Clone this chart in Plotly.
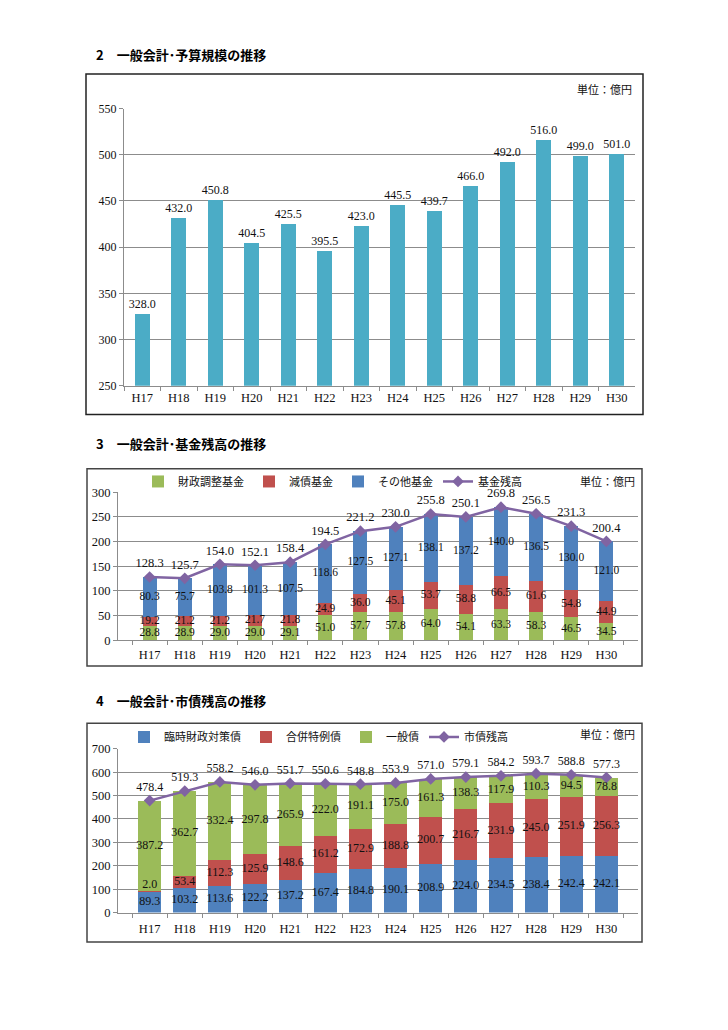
import numpy as np
import plotly.graph_objects as go

W, H = 728, 1030

years = ["H17", "H18", "H19", "H20", "H21", "H22", "H23", "H24", "H25", "H26", "H27", "H28", "H29", "H30"]

# Chart 2: 一般会計・予算規模
budget = [328.0, 432.0, 450.8, 404.5, 425.5, 395.5, 423.0, 445.5, 439.7, 466.0, 492.0, 516.0, 499.0, 501.0]

# Chart 3: 一般会計・基金残高
fund_adj = [28.8, 28.9, 29.0, 29.0, 29.1, 51.0, 57.7, 57.8, 64.0, 54.1, 63.3, 58.3, 46.5, 34.5]
fund_debt = [19.2, 21.2, 21.2, 21.7, 21.8, 24.9, 36.0, 45.1, 53.7, 58.8, 66.5, 61.6, 54.8, 44.9]
fund_other = [80.3, 75.7, 103.8, 101.3, 107.5, 118.6, 127.5, 127.1, 138.1, 137.2, 140.0, 136.5, 130.0, 121.0]
fund_total = [128.3, 125.7, 154.0, 152.1, 158.4, 194.5, 221.2, 230.0, 255.8, 250.1, 269.8, 256.5, 231.3, 200.4]

# Chart 4: 一般会計・市債残高
bond_temp = [89.3, 103.2, 113.6, 122.2, 137.2, 167.4, 184.8, 190.1, 208.9, 224.0, 234.5, 238.4, 242.4, 242.1]
bond_merge = [2.0, 53.4, 112.3, 125.9, 148.6, 161.2, 172.9, 188.8, 200.7, 216.7, 231.9, 245.0, 251.9, 256.3]
bond_general = [387.2, 362.7, 332.4, 297.8, 265.9, 222.0, 191.1, 175.0, 161.3, 138.3, 117.9, 110.3, 94.5, 78.8]
bond_total = [478.4, 519.3, 558.2, 546.0, 551.7, 550.6, 548.8, 553.9, 571.0, 579.1, 584.2, 593.7, 588.8, 577.3]

GREEN = "#9BBB59"
RED = "#C0504D"
BLUE = "#4F81BD"
PURPLE = "#8064A2"
TEAL = "#4BACC6"
GRID = "#8C8C8C"
SERIF = "Liberation Serif, DejaVu Serif, Noto Sans CJK JP"
GOTHIC = "Noto Sans CJK JP, Noto Sans"
TXT = "#111"


def px(x):
    return x / W


def py(y):
    return 1 - y / H


def fmt(v):
    return [f"{a:.1f}" for a in v]


fig = go.Figure()

# ---------- Chart 2 (budget) ----------
fig.add_trace(go.Bar(
    x=years, y=budget, width=0.4, marker_color=TEAL, marker_line_width=0,
    text=fmt(budget), textposition="outside", cliponaxis=False, constraintext="none",
    textfont=dict(family=SERIF, size=12, color=TXT),
    xaxis="x", yaxis="y", showlegend=False, hoverinfo="x+y",
))


def stack_mid(series_list):
    arr = np.array(series_list, dtype=float)
    cum = np.cumsum(arr, axis=0)
    return cum - arr / 2


def label_pos(vals, small):
    # very thin segments: lift the label a little so it does not sit on its neighbour
    return ["top center" if v < small else "middle center" for v in vals]


# ---------- Chart 3 (funds) ----------
for name, vals, col in [("財政調整基金", fund_adj, GREEN), ("減債基金", fund_debt, RED), ("その他基金", fund_other, BLUE)]:
    fig.add_trace(go.Bar(
        x=years, y=vals, width=0.4, marker_color=col, marker_line_width=0, name=name,
        xaxis="x2", yaxis="y2", legend="legend2",
    ))
fig.add_trace(go.Scatter(
    x=years, y=fund_total, mode="lines+markers+text", name="基金残高",
    line=dict(color=PURPLE, width=2.5), marker=dict(symbol="diamond", size=9, color=PURPLE),
    text=fmt(fund_total), textposition="top center", cliponaxis=False,
    textfont=dict(family=SERIF, size=12.5, color=TXT),
    xaxis="x2", yaxis="y2", legend="legend2",
))
mids = stack_mid([fund_adj, fund_debt, fund_other])
for vals, m in zip([fund_adj, fund_debt, fund_other], mids):
    fig.add_trace(go.Scatter(
        x=years, y=m, mode="text", text=fmt(vals), showlegend=False, hoverinfo="skip",
        textfont=dict(family=SERIF, size=11.5, color=TXT), cliponaxis=False,
        xaxis="x2", yaxis="y2",
    ))

# ---------- Chart 4 (bonds) ----------
for name, vals, col in [("臨時財政対策債", bond_temp, BLUE), ("合併特例債", bond_merge, RED), ("一般債", bond_general, GREEN)]:
    fig.add_trace(go.Bar(
        x=years, y=vals, width=0.66, marker_color=col, marker_line_width=0, name=name,
        xaxis="x3", yaxis="y3", legend="legend3",
    ))
fig.add_trace(go.Scatter(
    x=years, y=bond_total, mode="lines+markers+text", name="市債残高",
    line=dict(color=PURPLE, width=2.5), marker=dict(symbol="diamond", size=9, color=PURPLE),
    text=fmt(bond_total), textposition="top center", cliponaxis=False,
    textfont=dict(family=SERIF, size=12, color=TXT),
    xaxis="x3", yaxis="y3", legend="legend3",
))
mids = stack_mid([bond_temp, bond_merge, bond_general])
for vals, m in zip([bond_temp, bond_merge, bond_general], mids):
    fig.add_trace(go.Scatter(
        x=years, y=m, mode="text", text=fmt(vals), showlegend=False, hoverinfo="skip",
        textposition=label_pos(vals, 20), textfont=dict(family=SERIF, size=12, color=TXT),
        cliponaxis=False, xaxis="x3", yaxis="y3",
    ))

tickfont_x = dict(family=SERIF, size=12.5, color=TXT)


def xax(dom, standoff=0):
    return dict(domain=dom, type="category", showline=True, linecolor=GRID, linewidth=1,
                ticks="outside", tickson="boundaries", ticklen=4, tickcolor=GRID,
                ticklabelstandoff=standoff,
                tickfont=tickfont_x, showgrid=False, zeroline=False, fixedrange=True)


def yax(dom, rng, dtick, anchor, size=12.5):
    return dict(domain=dom, range=rng, dtick=dtick, showline=True, linecolor=GRID, linewidth=1,
                ticks="outside", ticklen=4, tickcolor=GRID, showgrid=True, gridcolor=GRID,
                gridwidth=1, zeroline=False, tickfont=dict(family=SERIF, size=size, color=TXT),
                anchor=anchor, fixedrange=True)


legend_font = dict(family=SERIF, size=11, color=TXT)

fig.update_layout(
    width=W, height=H, margin=dict(l=0, r=0, t=0, b=0),
    paper_bgcolor="white", plot_bgcolor="white", barmode="stack",
    xaxis=dict(xax([px(124), px(635)]), anchor="y"),
    yaxis=yax([py(384), py(103)], [250, 550], 50, "x", size=12),
    xaxis2=dict(xax([px(118), px(638)], 3), anchor="y2"),
    yaxis2=yax([py(642), py(492)], [0, 300], 50, "x2"),
    xaxis3=dict(xax([px(118), px(638)], 4), anchor="y3"),
    yaxis3=yax([py(918), py(752)], [0, 700], 100, "x3"),
    legend2=dict(orientation="h", x=px(138), y=py(481), xanchor="left", yanchor="middle",
                 font=legend_font, traceorder="normal", bgcolor="rgba(0,0,0,0)", itemwidth=30),
    legend3=dict(orientation="h", x=px(124), y=py(740), xanchor="left", yanchor="middle",
                 font=legend_font, traceorder="normal", bgcolor="rgba(0,0,0,0)", itemwidth=30),
    shapes=[
        dict(type="rect", xref="paper", yref="paper", x0=px(86), x1=px(643), y0=py(413), y1=py(68),
             line=dict(color="#222", width=1.5)),
        dict(type="rect", xref="paper", yref="paper", x0=px(87), x1=px(642), y0=py(668), y1=py(468),
             line=dict(color="#444", width=1.5)),
        dict(type="rect", xref="paper", yref="paper", x0=px(87), x1=px(642), y0=py(948), y1=py(726),
             line=dict(color="#444", width=1.5)),
    ],
    annotations=[
        dict(text="<b>2　一般会計･予算規模の推移</b>", xref="paper", yref="paper", x=px(94), y=py(48),
             xanchor="left", yanchor="middle", showarrow=False, font=dict(family=GOTHIC, size=13, color="#000")),
        dict(text="<b>3　一般会計･基金残高の推移</b>", xref="paper", yref="paper", x=px(94), y=py(443),
             xanchor="left", yanchor="middle", showarrow=False, font=dict(family=GOTHIC, size=13, color="#000")),
        dict(text="<b>4　一般会計･市債残高の推移</b>", xref="paper", yref="paper", x=px(94), y=py(703),
             xanchor="left", yanchor="middle", showarrow=False, font=dict(family=GOTHIC, size=13, color="#000")),
        dict(text="単位：億円", xref="paper", yref="paper", x=px(634), y=py(84),
             xanchor="right", yanchor="middle", showarrow=False, font=dict(family=SERIF, size=11, color=TXT)),
        dict(text="単位：億円", xref="paper", yref="paper", x=px(637), y=py(481),
             xanchor="right", yanchor="middle", showarrow=False, font=dict(family=SERIF, size=11, color=TXT)),
        dict(text="単位：億円", xref="paper", yref="paper", x=px(637), y=py(738),
             xanchor="right", yanchor="middle", showarrow=False, font=dict(family=SERIF, size=11, color=TXT)),
    ],
)

fig.write_html("out.html", config={"displayModeBar": False},
               post_script="document.body.style.margin='0';document.body.style.overflow='hidden';")
